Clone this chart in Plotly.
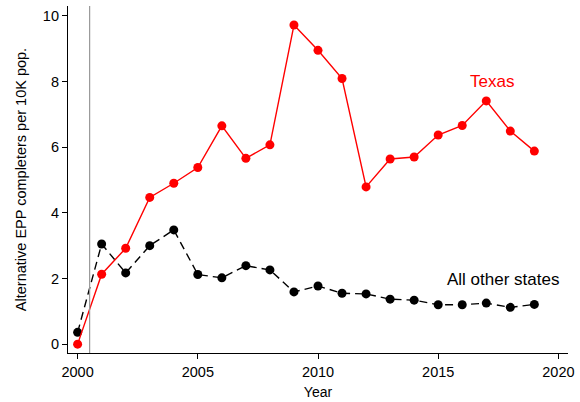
import plotly.graph_objects as go

years = list(range(2000, 2020))
texas = [0.0, 2.13, 2.92, 4.47, 4.90, 5.38, 6.65, 5.66, 6.07, 9.72,
         8.95, 8.09, 4.79, 5.64, 5.70, 6.37, 6.66, 7.41, 6.49, 5.88]
others = [0.36, 3.05, 2.17, 3.00, 3.48, 2.12, 2.02, 2.39, 2.26, 1.59,
          1.77, 1.55, 1.53, 1.37, 1.34, 1.20, 1.20, 1.25, 1.12, 1.21]
x_ticks = [2000, 2005, 2010, 2015, 2020]
y_ticks = [0, 2, 4, 6, 8, 10]
policy_year = 2000.5

FONT = "Liberation Sans, Arial, Helvetica, sans-serif"

fig = go.Figure()

fig.add_trace(go.Scatter(
    x=years, y=others, mode="lines+markers",
    line=dict(color="black", width=1.4, dash="8px,5px"),
    marker=dict(color="black", size=9),
    showlegend=False,
))
fig.add_trace(go.Scatter(
    x=years, y=texas, mode="lines+markers",
    line=dict(color="#ff0000", width=1.4),
    marker=dict(color="#ff0000", size=9),
    showlegend=False,
))

# vertical reference line
fig.add_shape(type="line", x0=policy_year, x1=policy_year, y0=0, y1=1,
              xref="x", yref="paper", line=dict(color="#999999", width=1.2))

fig.add_annotation(x=2017.25, y=8.0, text="Texas", showarrow=False,
                   font=dict(family=FONT, size=17, color="#ff0000"))
fig.add_annotation(x=2017.7, y=1.98, text="All other states", showarrow=False,
                   font=dict(family=FONT, size=17, color="black"))

fig.update_layout(
    width=580, height=402,
    margin=dict(l=68, r=12, t=6, b=49, autoexpand=False),
    plot_bgcolor="white", paper_bgcolor="white",
    font=dict(family=FONT, size=14, color="black"),
    xaxis=dict(
        range=[1999.6, 2020.4], tickvals=x_ticks,
        showline=True, linecolor="black", linewidth=1.2,
        ticks="outside", ticklen=5, tickcolor="black",
        showgrid=False, zeroline=False,
        tickfont=dict(size=14.5),
        title=dict(text="Year", font=dict(size=14), standoff=8),
    ),
    yaxis=dict(
        range=[-0.27, 10.3], tickvals=y_ticks,
        showline=True, linecolor="black", linewidth=1.2,
        ticks="outside", ticklen=5, tickcolor="black",
        showgrid=False, zeroline=False,
        tickfont=dict(size=14.5),
        title=dict(text="Alternative EPP completers per 10K pop.", font=dict(size=14.5), standoff=12),
    ),
)

fig.write_html("out.html", config={"displayModeBar": False},
               post_script="document.body.style.margin='0';")
